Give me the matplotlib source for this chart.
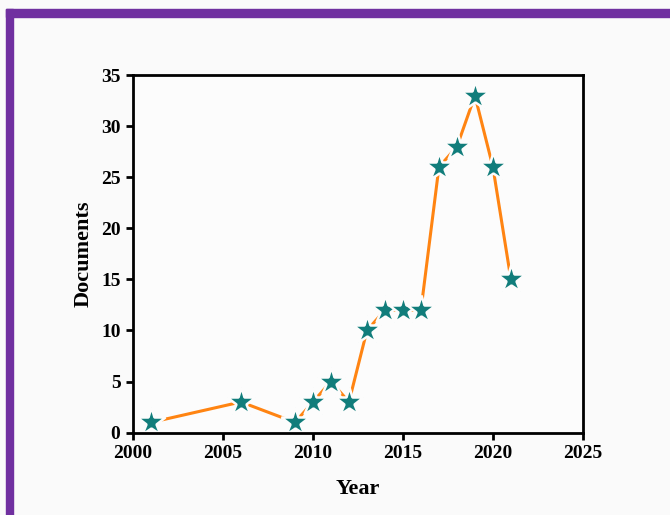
import matplotlib
matplotlib.use("Agg")
import matplotlib.pyplot as plt
from matplotlib.patches import Rectangle

years = [2001, 2006, 2009, 2010, 2011, 2012, 2013, 2014, 2015, 2016, 2017, 2018, 2019, 2020, 2021]
documents = [1, 3, 1, 3, 5, 3, 10, 12, 12, 12, 26, 28, 33, 26, 15]

plt.rcParams['font.family'] = ['Liberation Serif', 'DejaVu Serif']
plt.rcParams['font.weight'] = 'bold'

fig = plt.figure(figsize=(6.7, 5.15), dpi=100, facecolor='#fafafa')
ax = fig.add_axes([0.1985, 0.160, 0.6715, 0.694])
ax.set_facecolor('#fcfcfc')

# purple frame on top and left
fig.patches.append(Rectangle((6 / 670, 1 - 17 / 515), 1, 8 / 515, transform=fig.transFigure,
                             color='#7030a0', zorder=0))
fig.patches.append(Rectangle((6 / 670, 0), 7 / 670, 1 - 9 / 515, transform=fig.transFigure,
                             color='#7030a0', zorder=0))

ax.plot(years, documents, color='#ff8412', linewidth=2.2, marker='*', markersize=21,
        markerfacecolor='#117d7b', markeredgecolor='#fcfcfc', markeredgewidth=1.8,
        clip_on=False)

ax.set_xlim(2000, 2025)
ax.set_ylim(0, 35)
ax.set_xticks(range(2000, 2026, 5))
ax.set_yticks(range(0, 36, 5))

for side in ['left', 'bottom', 'top', 'right']:
    ax.spines[side].set_linewidth(2)
ax.tick_params(axis='both', direction='out', length=5, width=2, labelsize=14,
               top=False, right=False, pad=4)
for lbl in ax.get_xticklabels() + ax.get_yticklabels():
    lbl.set_fontweight('bold')

ax.set_xlabel('Year', fontsize=16, fontweight='bold', labelpad=12)
ax.set_ylabel('Documents', fontsize=16, fontweight='bold', labelpad=5)

fig.savefig('out.png', dpi=100, facecolor=fig.get_facecolor())
